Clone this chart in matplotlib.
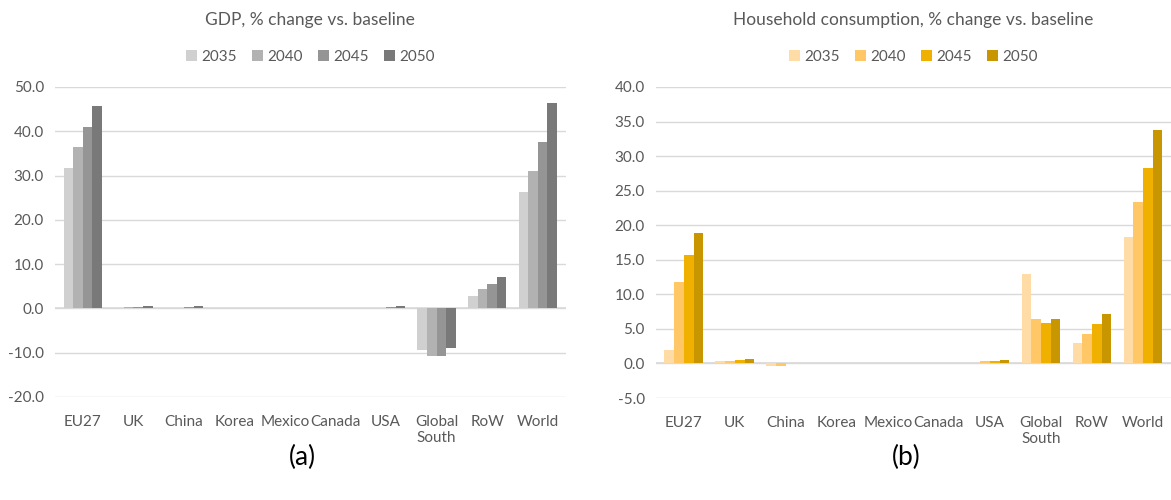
import numpy as np
import matplotlib.pyplot as plt

plt.rcParams['font.family'] = ['Lato', 'DejaVu Sans']

regions = ["EU27", "UK", "China", "Korea", "Mexico", "Canada", "USA",
           "Global\nSouth", "RoW", "World"]
years = ["2035", "2040", "2045", "2050"]

# GDP, % change vs. baseline (one list per year)
gdp_2035 = [31.8, 0.2, 0.0, 0.0, 0.0, 0.0, 0.2, -9.3, 2.9, 26.3]
gdp_2040 = [36.4, 0.3, 0.2, 0.0, 0.0, 0.0, 0.2, -10.8, 4.4, 31.1]
gdp_2045 = [41.0, 0.4, 0.3, 0.0, 0.0, 0.0, 0.4, -10.8, 5.6, 37.6]
gdp_2050 = [45.7, 0.5, 0.5, 0.0, 0.0, 0.0, 0.5, -9.0, 7.2, 46.3]

# Household consumption, % change vs. baseline
hc_2035 = [2.0, 0.4, -0.4, 0.0, 0.0, 0.0, 0.1, 13.0, 3.0, 18.3]
hc_2040 = [11.8, 0.4, -0.3, 0.0, 0.0, 0.0, 0.3, 6.5, 4.3, 23.4]
hc_2045 = [15.7, 0.5, 0.0, 0.0, 0.0, 0.0, 0.4, 5.9, 5.7, 28.3]
hc_2050 = [18.9, 0.7, 0.0, 0.0, 0.0, 0.0, 0.5, 6.5, 7.1, 33.8]

grey_cols = ["#d0d0d0", "#b2b2b2", "#959595", "#797979"]
gold_cols = ["#ffdba6", "#ffc766", "#f0b000", "#c89600"]
txt = "#595959"

fig = plt.figure(figsize=(11.71, 5.0), dpi=100)
ax1 = fig.add_axes([0.047, 0.206, 0.436, 0.620])
ax2 = fig.add_axes([0.560, 0.204, 0.440, 0.622])


def draw(ax, series, colors, ylim, step, title):
    x = np.arange(len(regions))
    w = 0.19
    for i, (vals, c) in enumerate(zip(series, colors)):
        ax.bar(x + (i - 1.5) * w, vals, w, color=c, label=years[i], zorder=3)
    ax.set_xlim(-0.55, len(regions) - 0.45)
    ax.set_ylim(*ylim)
    ax.set_yticks(np.arange(ylim[0], ylim[1] + step / 2, step))
    ax.yaxis.set_major_formatter(plt.FormatStrFormatter('%.1f'))
    ax.grid(axis='y', color='#d9d9d9', lw=1, zorder=0)
    ax.axhline(0, color='#d9d9d9', lw=1.2, zorder=2)
    for s in ax.spines.values():
        s.set_visible(False)
    ax.set_xticks(x)
    ax.set_xticklabels(regions)
    ax.tick_params(length=0, labelsize=11, colors=txt, pad=8)
    ax.tick_params(axis='x', pad=13)
    ax.set_title(title, fontsize=12.5, color=txt, pad=45)
    ax.legend(loc='lower center', bbox_to_anchor=(0.5, 1.03), ncol=4,
              frameon=False, fontsize=11, labelcolor=txt, handlelength=0.7,
              handleheight=0.7, handletextpad=0.3, columnspacing=1.0)


draw(ax1, [gdp_2035, gdp_2040, gdp_2045, gdp_2050], grey_cols,
     (-20, 50), 10, "GDP, % change vs. baseline")
draw(ax2, [hc_2035, hc_2040, hc_2045, hc_2050], gold_cols,
     (-5, 40), 5, "Household consumption, % change vs. baseline")

fig.text(0.258, 0.086, "(a)", fontsize=19, color='black', ha='center', va='center')
fig.text(0.774, 0.086, "(b)", fontsize=19, color='black', ha='center', va='center')

fig.savefig("out.png", dpi=100)
